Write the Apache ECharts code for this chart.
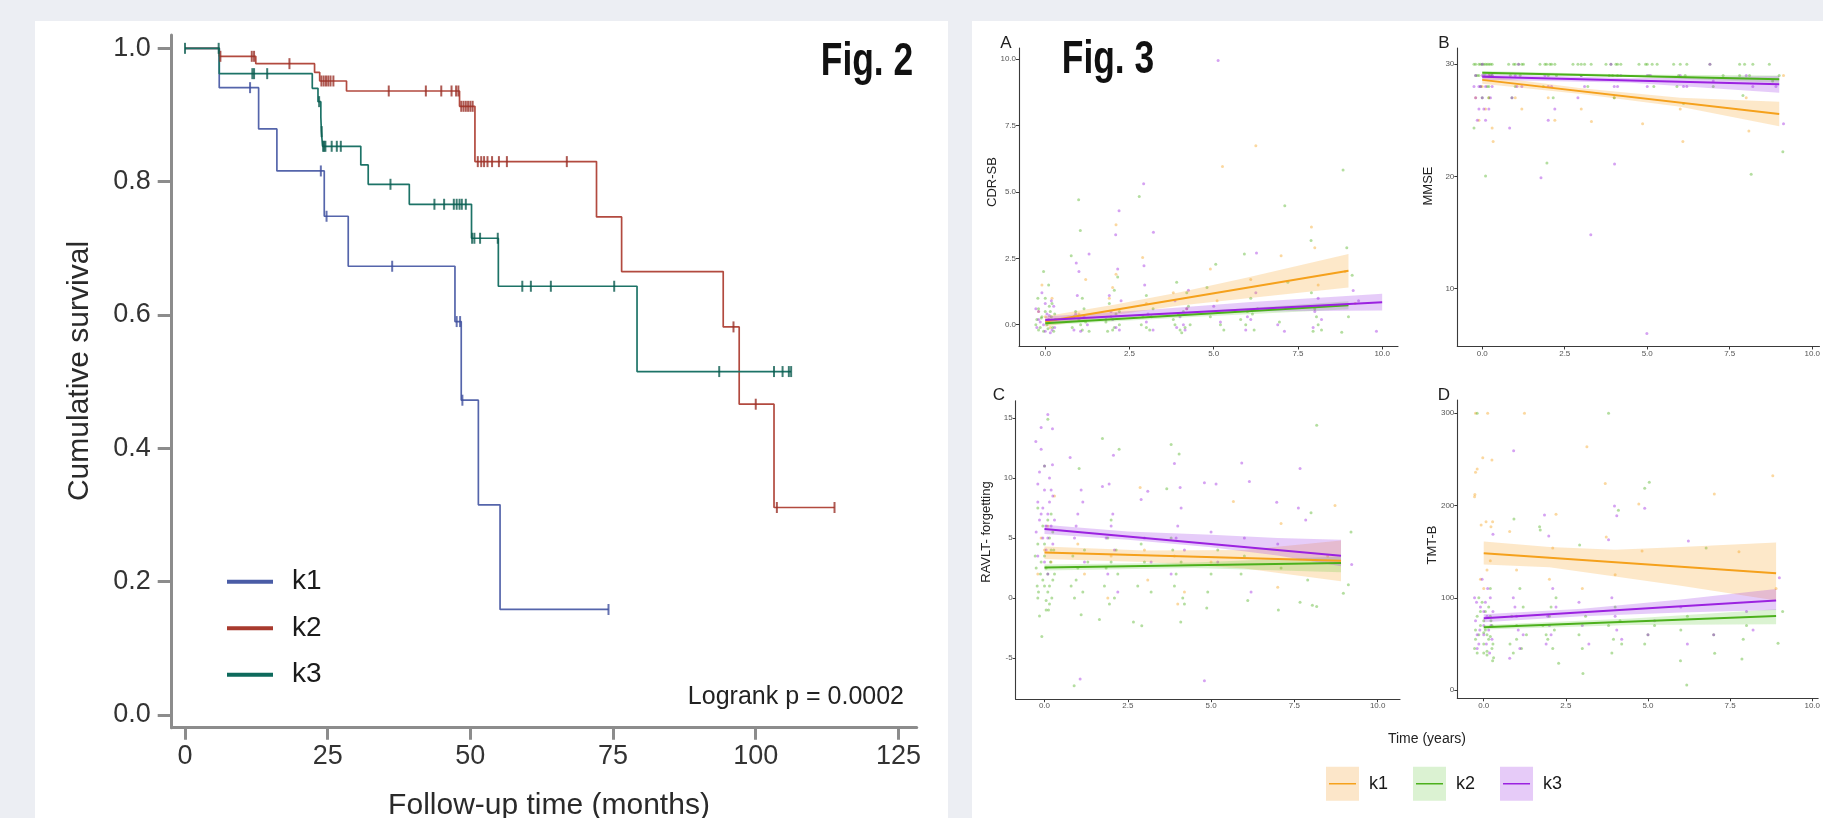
<!DOCTYPE html>
<html><head><meta charset="utf-8">
<script src="https://cdn.jsdelivr.net/npm/echarts@6/dist/echarts.min.js"></script>
<style>
html,body{margin:0;padding:0;background:#eceef3;width:1823px;height:818px;overflow:hidden}
.panel{position:absolute;background:#fff}
#chart{position:absolute;left:0;top:0;width:1823px;height:818px}
</style></head><body>
<div class="panel" style="left:35px;top:21px;width:913px;height:797px"></div>
<div class="panel" style="left:972px;top:21px;width:851px;height:797px"></div>
<div id="chart"></div>
<script>
// ---------- Fig. 2 : Kaplan-Meier ----------
const kmTicksX = [0, 25, 50, 75, 100, 125];
const kmTicksY = [0, 0.2, 0.4, 0.6, 0.8, 1.0];
const groups = ['k1', 'k2', 'k3'];

const k1Times = [0, 6.0, 12.9, 16.1, 24.4, 28.6, 47.3, 48.4, 51.4, 55.2];
const k1Surv  = [1, 0.941, 0.879, 0.816, 0.748, 0.673, 0.590, 0.472, 0.315, 0.158];
const k1End = 74.2;
const k1Censor = [11.4, 23.8, 24.8, 36.3, 47.6, 48.2, 48.6, 74.2];

const k2Times = [0, 6.0, 12.4, 22.7, 23.6, 28.3, 48.1, 50.8, 72.1, 76.5, 94.3, 97.1, 103.2];
const k2Surv  = [1, 0.988, 0.977, 0.964, 0.951, 0.936, 0.913, 0.830, 0.747, 0.665, 0.582, 0.466, 0.311];
const k2End = 113.8;
const k2Censor = [6.2, 11.7, 12.1, 18.3, 23.9, 24.3, 24.7, 25.1, 25.5, 26.0, 35.7, 42.2, 44.9, 46.7, 47.5, 47.9,
  48.4, 48.8, 49.2, 49.6, 50.0, 50.4, 51.3, 51.9, 52.4, 53.0, 53.8, 55.0, 56.4, 66.9, 96.1, 100.0, 103.7, 113.8];

const k3Times = [0, 6.0, 22.3, 23.3, 23.8, 23.9, 24.1, 30.8, 32.1, 39.3, 50.2, 54.9, 79.2];
const k3Surv  = [1, 0.962, 0.940, 0.920, 0.897, 0.875, 0.853, 0.825, 0.796, 0.766, 0.715, 0.643, 0.515];
const k3End = 106.2;
const k3Censor = [0, 5.9, 11.8, 12.1, 14.4, 23.5, 23.95, 24.2, 24.4, 24.6, 25.7, 26.6, 27.3, 36.0, 43.7, 45.4,
  47.1, 47.6, 48.1, 48.5, 49.2, 50.3, 50.7, 51.7, 54.8, 59.1, 60.6, 64.1, 75.2, 93.6, 103.2, 104.7, 105.8, 106.2];

// ---------- Fig. 3 : trajectories ----------
const timeTicks = [0, 2.5, 5, 7.5, 10];
const cdrTicks = [0, 2.5, 5, 7.5, 10];
const mmseTicks = [10, 20, 30];
const ravltTicks = [-5, 0, 5, 10, 15];
const tmtTicks = [0, 100, 200, 300];

const cdrK1 = [[0.0,0.3],[0.2,1.0],[-0.2,0.5],[0.15,-0.1],[-0.1,1.5],[1.0,0.4],[1.2,1.7],[2.1,3.76],[1.9,1.0],[2.0,1.4],
  [2.89,2.53],[3.0,0.8],[3.8,1.2],[4.2,0.6],[5.26,5.96],[4.9,2.1],[5.1,0.9],[6.25,6.74],[6.1,1.7],[7.0,2.6],
  [7.9,3.68],[8.0,2.9],[8.1,1.5],[8.9,2.0],[9.2,0.8],[2.1,1.9]];
const cdrK2 = [[-0.2,-0.2],[0.1,0.1],[0.25,-0.25],[-0.1,0.3],[0.15,0.5],[0.05,0.0],[-0.25,0.2],[0.2,0.8],[-0.15,-0.1],
  [0.3,0.2],[0.0,1.0],[-0.05,2.0],[0.1,1.5],[-0.2,0.6],[0.8,-0.1],[1.0,0.2],[1.1,-0.2],[0.9,0.5],[1.2,0.1],[0.77,2.6],
  [1.04,3.55],[0.99,4.71],[1.1,1.0],[1.3,-0.25],[1.8,0.1],[2.0,-0.2],[2.1,0.4],[1.9,0.8],[2.2,0.0],[2.05,1.3],
  [1.85,-0.25],[2.15,1.8],[2.79,4.83],[2.9,0.3],[3.1,-0.2],[3.2,0.6],[2.85,0.0],[3.0,1.1],[3.8,0.2],[4.0,-0.2],
  [4.1,0.5],[4.2,1.2],[3.9,1.6],[4.3,0.0],[4.05,-0.3],[4.9,0.3],[5.06,2.28],[5.2,0.0],[4.8,1.4],[5.3,-0.2],
  [5.91,2.66],[6.0,0.5],[6.2,-0.2],[6.1,1.0],[5.8,0.2],[6.3,0.6],[7.11,4.48],[6.95,0.1],[7.2,1.6],[7.89,3.17],
  [8.0,0.6],[8.2,-0.2],[7.9,1.2],[8.1,0.0],[8.84,5.83],[8.8,-0.28],[9.11,1.86],[9.0,0.3],[8.95,2.9],
  [-0.28,0.0],[0.28,0.4],[-0.05,-0.25],[0.12,0.7],[-0.22,1.0],[0.22,-0.1],[0.0,0.5],[-0.12,0.25],[0.18,0.3],
  [0.08,-0.15],[1.05,0.0],[0.85,0.3],[1.15,0.6],[1.95,0.3],[2.05,-0.1],[2.2,0.5],[3.95,0.4],[4.15,-0.1],[3.85,0.0],
  [4.25,0.7],[3.0,-0.1],[3.15,0.3],[5.95,0.0],[6.15,0.4],[8.05,0.3],[7.95,-0.25]];
const cdrK3 = [[-0.15,0.1],[0.2,-0.2],[0.05,0.4],[-0.25,-0.1],[0.25,0.7],[0.1,0.2],[-0.1,1.2],[0.15,-0.3],[0.0,0.8],
  [-0.2,0.5],[0.92,2.32],[1.3,2.66],[0.95,1.1],[1.15,0.3],[0.85,-0.2],[1.25,0.0],[1.0,2.0],[2.19,4.29],[2.09,3.39],
  [2.15,2.1],[1.95,0.5],[2.1,-0.1],[2.25,0.9],[1.8,0.2],[2.92,5.31],[3.21,3.48],[2.93,2.22],[3.05,0.4],[3.2,-0.2],
  [2.95,1.5],[4.0,0.3],[4.15,-0.2],[3.85,0.9],[4.25,1.3],[4.1,0.0],[5.13,9.95],[5.0,0.7],[5.2,0.1],[6.27,2.7],
  [6.1,0.2],[5.95,-0.2],[6.25,1.2],[6.9,0.0],[7.1,-0.25],[8.0,0.5],[8.1,1.0],[7.95,-0.1],[9.14,1.29],[9.83,-0.25],[9.3,0.9],
  [-0.05,0.0],[0.12,0.35],[-0.2,0.2],[0.28,-0.1],[0.0,-0.25],[0.18,0.9],[-0.28,0.6],[1.05,-0.25],[0.9,0.4],[2.0,0.2],
  [2.2,-0.2],[1.9,1.1],[3.9,-0.1],[4.2,0.6],[3.0,0.1],[6.0,0.3],[8.2,0.2]];
const cdrFitK1 = [[0, 0.12], [9.0, 2.03]];
const cdrFitK2 = [[0, 0.06], [9.0, 0.73]];
const cdrFitK3 = [[0, 0.18], [10.0, 0.85]];
const cdrBandK1 = [[0,-0.08,0.32],[2,0.36,0.74],[4,0.72,1.22],[6,1.0,1.78],[9,1.40,2.66]];
const cdrBandK2 = [[0,-0.02,0.14],[4.5,0.30,0.50],[9,0.58,0.88]];
const cdrBandK3 = [[0,0.07,0.31],[3,0.33,0.55],[6,0.50,0.85],[10,0.54,1.17]];

const mmseK1 = [[0.0,28],[-0.2,27],[0.2,27],[0.1,26],[-0.1,25],[0.33,23.1],[0.3,24.3],[0.2,29],[1.0,27],[1.2,26],
  [2.0,27],[2.2,25],[3.31,24.9],[3.0,26],[4.86,24.7],[4.0,27],[6.08,23.1],[6.0,26],[8.08,24.05],[8.0,27],[9.13,29]];
const mmseK2 = [[-0.2,30],[-0.1,30],[0.0,30],[0.1,30],[0.2,30],[0.3,30],[-0.15,29],[0.05,29],[0.25,29],[0.15,28],
  [-0.05,28],[-0.25,24.3],[0.1,20.04],[0.2,27],[0.8,30],[0.95,30],[1.1,30],[1.25,30],[0.85,29],[1.15,29],[1.0,28],
  [0.9,27],[1.75,30],[1.9,30],[2.05,30],[2.2,30],[2.0,29],[1.85,28],[2.15,27],[1.96,21.2],[2.75,30],[2.9,30],
  [3.1,30],[3.0,29],[3.2,28],[3.75,30],[3.9,30],[4.05,30],[4.2,30],[3.85,29],[4.1,29],[4.0,27],[4.75,30],[4.95,30],
  [5.15,30],[5.05,29],[5.2,28],[5.8,30],[6.0,30],[6.15,29],[5.9,28],[6.1,26.5],[6.9,30],[7.3,29],[7.0,28],
  [7.8,30],[7.95,30],[8.1,29],[8.15,20.2],[7.9,27.2],[8.7,30],[9.11,22.2],[8.8,28.5],[9.0,29],
  [-0.25,30],[0.15,30],[0.25,30],[-0.05,30],[0.05,30],[-0.2,29],[0.3,29],[-0.1,29],[0.2,28],[0.0,27],[1.0,30],
  [1.2,30],[2.1,30],[1.95,30],[2.25,29],[3.0,30],[3.3,30],[4.1,30],[3.95,29],[5.0,30],[5.3,30],[6.2,30],[5.95,29],
  [7.8,29],[8.2,30]];
const mmseK3 = [[-0.2,29],[0.0,29],[0.2,29],[-0.1,28],[0.1,28],[0.3,28],[-0.2,27],[0.0,27],[0.2,26],[-0.1,26],
  [0.1,25],[0.0,30],[0.83,24.3],[1.0,29],[1.2,28],[0.9,27],[1.1,30],[1.78,19.87],[2.1,28],[1.9,29],[2.2,26],
  [2.0,25],[3.29,14.8],[3.0,29],[2.9,27],[4.01,21.1],[4.0,28],[4.2,29],[3.9,30],[4.99,6.0],[5.1,29],[5.0,28],
  [6.0,29],[6.2,28],[6.9,30],[7.0,28.5],[8.2,28],[8.0,29],[9.13,24.7],[8.9,28],
  [0.1,29],[-0.05,28],[0.25,27],[-0.25,28],[0.05,26],[0.3,29],[-0.15,25],[1.05,28],[2.0,28],[3.1,28],[4.1,28],
  [5.0,29],[6.1,28]];
const mmseFitK1 = [[0, 28.6], [9.0, 25.55]];
const mmseFitK2 = [[0, 29.23], [9.0, 28.66]];
const mmseFitK3 = [[0, 28.87], [9.0, 28.22]];
const mmseBandK1 = [[0,28.25,29.0],[3,27.35,27.85],[6,26.2,27.0],[9,24.47,26.64]];
const mmseBandK2 = [[0,29.08,29.38],[4.5,28.88,29.08],[9,28.34,29.0]];
const mmseBandK3 = [[0,28.62,29.12],[4.5,28.35,28.75],[9,27.45,28.95]];

const ravltK1 = [[0.0,4],[0.2,3],[-0.1,5],[0.1,6],[-0.2,2],[0.3,8.5],[1.0,4.5],[1.2,2],[2.0,3.5],[1.9,0],[2.87,9.2],
  [3.0,4],[3.1,1.5],[3.9,3.5],[4.2,0.5],[4.0,-0.5],[5.67,8.05],[5.0,3],[7.0,0.9],[7.1,6.2],[8.72,7.7],[8.5,3.5]];
const ravltK2 = [[-0.2,0],[0.0,1],[0.1,2],[-0.1,3],[0.2,4],[0.05,-1],[0.15,5],[-0.25,2.5],[0.25,1.5],[0.0,3.5],
  [-0.15,-1.5],[0.1,0.5],[-0.05,6],[0.2,7],[0.1,14.9],[-0.08,-3.2],[0.0,11],[-0.2,4.5],[0.3,2],[0.15,-0.5],
  [1.04,10.8],[0.89,-7.3],[1.1,-1.4],[0.8,1],[1.0,2.5],[1.2,4],[0.9,0],[1.3,3],[1.74,13.3],[2.24,12.4],[1.65,-1.8],
  [1.8,1],[2.0,3],[2.1,0],[1.9,5],[2.2,2],[2.0,6.5],[2.67,-2.0],[2.92,-2.3],[2.8,1],[3.0,3],[3.2,0.5],[2.9,4.5],
  [3.8,12.8],[4.04,12.0],[4.09,-2.0],[3.67,9.1],[3.9,1],[4.1,3],[4.2,-0.5],[3.8,5],[4.87,-0.83],[5.0,2],[5.2,4],
  [4.9,0.5],[5.9,2],[6.1,-0.2],[6.0,3.5],[7.02,-1.0],[7.1,2.5],[8.17,14.4],[8.0,7.1],[7.67,-0.36],[8.17,-0.7],
  [8.04,-0.6],[7.9,1.5],[9.2,5.5],[9.12,1.1],[8.97,0.4],
  [-0.22,1],[0.22,0],[0.05,2.5],[-0.05,1.5],[0.18,3],[-0.18,0.5],[0.12,-1],[0.28,4],[-0.28,3.5],[0.0,4.5],
  [0.1,6.5],[-0.12,2],[0.25,5.5],[-0.2,7.5],[0.15,1],[0.05,-0.2],[0.95,1.5],[1.15,0.5],[0.85,3.5],[1.85,2.5],
  [2.15,4],[1.95,-0.5],[3.95,2],[4.15,0],[3.85,4]];
const ravltK3 = [[0.1,15.3],[-0.26,13.05],[-0.1,14.2],[0.24,14.1],[-0.1,12.4],[0.24,11.1],[0.0,9],[-0.2,8],[0.1,7],
  [0.2,6],[-0.05,5],[0.15,10],[-0.15,6.5],[0.05,4],[0.25,8.5],[-0.2,9.5],[0.0,3],[0.1,2],[0.77,11.7],[1.07,-6.75],
  [1.0,7],[0.9,5],[1.2,3],[1.1,9],[2.07,11.9],[1.94,9.5],[1.74,9.3],[2.0,6],[2.1,4],[1.9,2],[2.2,0.5],[3.1,8.9],
  [2.9,8.2],[3.0,5],[3.2,3],[3.9,11.2],[4.07,9.2],[4.8,9.6],[4.0,6],[4.2,4],[3.8,2],[5.15,9.5],[4.8,-6.9],[5.0,5.5],
  [5.2,3],[5.92,11.25],[6.15,9.7],[6.0,5],[6.2,0.5],[6.97,7.97],[7.62,7.5],[7.84,6.5],[7.67,10.8],[7.0,4.5],[9.22,2.8],
  [-0.05,7.5],[0.15,8],[-0.25,5.5],[0.2,9],[0.05,6],[-0.15,10.5],[0.25,4.5],[0.0,11],[-0.1,7],[0.1,5],[0.3,6.5],
  [-0.2,3.5],[0.95,6],[1.15,8],[2.05,7],[1.85,5],[3.95,5],[4.1,7.5]];
const ravltFitK1 = [[0, 3.8], [8.9, 3.1]];
const ravltFitK2 = [[0, 2.55], [8.9, 2.92]];
const ravltFitK3 = [[0, 5.75], [8.9, 3.52]];
const ravltBandK1 = [[0,3.25,4.3],[3,3.0,3.95],[6,2.45,4.0],[8.9,1.39,4.8]];
const ravltBandK2 = [[0,2.3,2.8],[4.5,2.5,2.95],[8.9,2.15,3.45]];
const ravltBandK3 = [[0,5.33,6.1],[2.5,4.85,5.55],[5,4.22,5.28],[7,3.55,5.0],[8.9,2.64,4.86]];

const tmtK1 = [[-0.25,300],[0.12,300],[-0.03,251.9],[0.25,249.4],[-0.2,239.6],[-0.25,236],[-0.28,209.6],[-0.27,212],
  [-0.08,178.9],[0.07,182.5],[0.27,182.5],[0.22,177],[0.1,130],[-0.1,120],[0.2,140],[0.0,110],[1.24,300],[0.79,171.7],
  [1.0,130],[2.2,190.5],[2.1,154],[2.0,120],[3.14,263.8],[3.0,110],[3.7,224],[3.73,166],[4.72,201.7],[4.82,150.7],
  [4.0,125],[7.02,212.5],[7.77,150],[8.8,232.4],[8.9,110]];
const tmtK2 = [[-0.2,40],[0.0,50],[0.1,60],[-0.1,70],[0.2,80],[0.25,45],[-0.25,55],[0.05,65],[0.15,90],[-0.15,100],
  [0.3,35],[0.0,75],[-0.1,85],[0.2,58],[0.1,42],[-0.2,300],[0.27,31.8],[0.92,185.4],[0.8,50],[1.0,70],[1.2,90],
  [0.9,40],[1.1,110],[1.3,60],[1.7,177],[1.72,173.5],[1.9,60],[2.0,80],[2.1,45],[2.2,100],[2.28,28.9],[1.8,70],
  [2.92,157.2],[3.02,18],[2.9,60],[3.1,80],[3.0,45],[3.8,300],[4.1,195],[3.8,70],[4.0,90],[4.2,50],[3.9,40],
  [5.04,225.2],[4.9,218.6],[5.0,60],[5.2,70],[4.9,50],[6.18,5.4],[5.99,31.8],[6.77,154],[6.0,65],[6.2,80],
  [7.03,39.8],[7.0,60],[7.86,33.6],[8.0,70],[7.9,55],[9.1,85],[8.96,50.6],
  [-0.25,65],[0.25,70],[0.0,40],[0.15,55],[-0.15,60],[0.05,85],[0.28,50],[-0.05,95],[0.2,110],[-0.2,80],[0.1,38],
  [0.0,62],[-0.28,45],[0.22,75],[1.0,55],[0.85,80],[1.15,45],[1.95,55],[2.15,65],[2.05,90],[3.95,55],[4.15,75]];
const tmtK3 = [[-0.2,60],[0.0,70],[0.1,80],[-0.1,90],[0.2,100],[0.25,55],[-0.25,75],[0.05,95],[0.15,65],[-0.15,50],
  [0.0,85],[0.28,168.8],[-0.2,45],[0.91,259.5],[0.79,34.3],[1.0,80],[1.2,60],[0.9,100],[1.1,45],[1.85,189.7],
  [1.98,167],[2.0,70],[2.2,90],[1.9,50],[2.1,110],[3.0,70],[3.2,50],[2.9,95],[3.98,199.5],[4.05,189],[3.8,163],
  [4.0,80],[4.2,55],[3.9,100],[4.9,197],[5.0,60],[5.2,75],[6.23,161.5],[6.0,90],[6.2,50],[7.0,60],[8.0,85],
  [8.2,65],[9.0,121.8],
  [0.0,60],[0.12,110],[-0.12,65],[0.22,70],[-0.22,95],[0.08,50],[0.28,85],[-0.05,120],[0.18,40],[-0.28,100],
  [1.05,65],[0.95,90],[2.05,60],[1.95,80],[4.05,65]];
const tmtFitK1 = [[0, 148.2], [8.9, 126.5]];
const tmtFitK2 = [[0, 67.9], [8.9, 80.2]];
const tmtFitK3 = [[0, 77.7], [8.9, 96.9]];
const tmtBandK1 = [[0,136,161],[2,133,155],[4,123,152],[6,113,155],[8.9,97,160]];
const tmtBandK2 = [[0,65.5,70.5],[4.5,70.5,77.5],[8.9,71.2,87.5]];
const tmtBandK3 = [[0,73.5,82],[3,80,88],[6,84,98],[8.9,86.7,109.5]];

// ---------- styling ----------
const FONT = "'Liberation Sans', Arial, Helvetica, sans-serif";
const kmLineColors = ['#5565ab', '#b24a3f', '#1d7367'];
const kmMarkColors = ['#3e4f9e', '#9a3128', '#0c5c50'];
const kmLegendColors = ['#4a5ca6', '#a83a2e', '#0e6a5c'];
const fitColors = ['#f5a11c', '#4cb01c', '#9b22e0'];
const bandColors = ['rgba(247,165,40,0.25)', 'rgba(90,200,50,0.22)', 'rgba(150,40,230,0.24)'];
const boxColors = ['#fce6c9', '#dbf2d2', '#e6cbf8'];

function survAt(times, surv, t) {
  let s = surv[0];
  for (let i = 0; i < times.length; i++) if (times[i] <= t) s = surv[i];
  return s;
}
function kmPoints(times, surv, end) {
  const d = times.map((t, i) => [t, surv[i]]);
  d.push([end, surv[surv.length - 1]]);
  return d;
}

const km = [
  [k1Times, k1Surv, k1End, k1Censor],
  [k2Times, k2Surv, k2End, k2Censor],
  [k3Times, k3Surv, k3End, k3Censor]
];

const series = [];
km.forEach((g, i) => {
  series.push({
    type: 'line', name: groups[i], xAxisIndex: 0, yAxisIndex: 0, step: 'end',
    data: kmPoints(g[0], g[1], g[2]), showSymbol: false, symbol: 'none', color: kmLineColors[i],
    lineStyle: { width: 1.7, color: kmLineColors[i] }, z: 3, silent: true
  });
  series.push({
    type: 'scatter', name: groups[i] + '_c', xAxisIndex: 0, yAxisIndex: 0,
    data: g[3].map(c => [c, survAt(g[0], g[1], c)]), symbol: 'rect', symbolSize: [2, 11],
    itemStyle: { color: kmMarkColors[i] }, z: 4, silent: true
  });
});

const panels = [
  { pts: [cdrK1, cdrK2, cdrK3], fits: [cdrFitK1, cdrFitK2, cdrFitK3], bands: [cdrBandK1, cdrBandK2, cdrBandK3] },
  { pts: [mmseK1, mmseK2, mmseK3], fits: [mmseFitK1, mmseFitK2, mmseFitK3], bands: [mmseBandK1, mmseBandK2, mmseBandK3] },
  { pts: [ravltK1, ravltK2, ravltK3], fits: [ravltFitK1, ravltFitK2, ravltFitK3], bands: [ravltBandK1, ravltBandK2, ravltBandK3] },
  { pts: [tmtK1, tmtK2, tmtK3], fits: [tmtFitK1, tmtFitK2, tmtFitK3], bands: [tmtBandK1, tmtBandK2, tmtBandK3] }
];

panels.forEach((p, pi) => {
  const ax = pi + 1;
  p.pts.forEach((pts, g) => {
    series.push({
      type: 'scatter', name: 'p_' + groups[g], xAxisIndex: ax, yAxisIndex: ax, data: pts,
      symbolSize: 3, itemStyle: { color: fitColors[g], opacity: 0.42 }, z: 2, silent: true
    });
  });
  p.bands.forEach((band, g) => {
    series.push({
      type: 'custom', name: 'r_' + groups[g], xAxisIndex: ax, yAxisIndex: ax,
      data: [[band[0][0], band[0][1]]], z: 3, silent: true,
      renderItem: (params, api) => {
        const up = band.map(b => api.coord([b[0], b[2]]));
        const lo = band.slice().reverse().map(b => api.coord([b[0], b[1]]));
        return { type: 'polygon', shape: { points: up.concat(lo) }, style: { fill: bandColors[g] } };
      }
    });
  });
  p.fits.forEach((fit, g) => {
    series.push({
      type: 'line', name: 'f_' + groups[g], xAxisIndex: ax, yAxisIndex: ax, data: fit,
      showSymbol: false, symbol: 'none', color: fitColors[g],
      lineStyle: { width: 2, color: fitColors[g] }, z: 4, silent: true
    });
  });
});

// ---------- axes ----------
function kmAxis(extra) {
  return Object.assign({
    type: 'value', gridIndex: 0, splitLine: { show: false },
    axisLine: { show: true, onZero: false, lineStyle: { color: '#8c8c8c', width: 3 } },
  }, extra);
}
const xAxes = [
  kmAxis({ min: -2.33, max: 128.2,
    axisTick: { show: true, length: 12, lineStyle: { color: '#8c8c8c', width: 3 }, customValues: kmTicksX },
    axisLabel: { customValues: kmTicksX, fontSize: 27, color: '#333', margin: 15, fontFamily: FONT } })
];
const yAxes = [
  kmAxis({ min: -0.0194, max: 1.02,
    axisTick: { show: true, length: 14, lineStyle: { color: '#8c8c8c', width: 3 }, customValues: kmTicksY },
    axisLabel: { customValues: kmTicksY, fontSize: 27, color: '#333', margin: 21, fontFamily: FONT,
      formatter: v => v.toFixed(1) } })
];
function smallAxis(idx, min, max, ticks, fmt) {
  return {
    type: 'value', gridIndex: idx, min: min, max: max, splitLine: { show: false },
    axisLine: { show: true, onZero: false, lineStyle: { color: '#3a3a3a', width: 1.1 } },
    axisTick: { show: true, length: 3, customValues: ticks, lineStyle: { color: '#3a3a3a', width: 1 } },
    axisLabel: { customValues: ticks, fontSize: 8, color: '#555', margin: 3, fontFamily: FONT, formatter: fmt }
  };
}
const f1 = v => v.toFixed(1);
const f0 = v => String(Math.round(v));
xAxes.push(smallAxis(1, -0.78, 10.47, timeTicks, f1));
yAxes.push(smallAxis(1, -0.82, 10.42, cdrTicks, f1));
xAxes.push(smallAxis(2, -0.756, 10.22, timeTicks, f1));
yAxes.push(smallAxis(2, 4.84, 31.44, mmseTicks, f0));
xAxes.push(smallAxis(3, -0.864, 10.67, timeTicks, f1));
yAxes.push(smallAxis(3, -8.43, 16.44, ravltTicks, f0));
xAxes.push(smallAxis(4, -0.805, 10.18, timeTicks, f1));
yAxes.push(smallAxis(4, -9.0, 314.4, tmtTicks, f0));

// ---------- text ----------
function txt(x, y, text, size, opts) {
  opts = opts || {};
  return {
    type: 'text', x: x, y: y, rotation: opts.rot || 0, scaleX: opts.sx || 1, scaleY: opts.sy || 1, silent: true,
    style: { text: text, fontSize: size, fontFamily: opts.family || FONT, fontWeight: opts.weight || 'normal',
      fill: opts.color || '#222', align: opts.align || 'center', verticalAlign: 'middle' }
  };
}
const graphics = [
  txt(80, 371, 'Cumulative survival', 30, { rot: Math.PI / 2, color: '#2a2a2a' }),
  txt(549, 806, 'Follow-up time (months)', 30, { color: '#2a2a2a' }),
  txt(904, 697, 'Logrank p = 0.0002', 25, { align: 'right', color: '#222' }),
  txt(867, 62, 'Fig. 2', 46, { weight: 'bold', sx: 0.77, color: '#111' }),
  txt(1108, 60, 'Fig. 3', 46, { weight: 'bold', sx: 0.77, color: '#111' }),
  txt(1006, 43, 'A', 17), txt(1444, 43, 'B', 17), txt(999, 395, 'C', 17), txt(1444, 395, 'D', 17),
  txt(992, 182, 'CDR-SB', 13, { rot: Math.PI / 2 }),
  txt(1428, 186, 'MMSE', 13, { rot: Math.PI / 2 }),
  txt(986, 532, 'RAVLT- forgetting', 13, { rot: Math.PI / 2 }),
  txt(1432, 545, 'TMT-B', 13, { rot: Math.PI / 2 }),
  txt(1427, 739, 'Time (years)', 14)
];

const chart = echarts.init(document.getElementById('chart'));
chart.setOption({
  animation: false,
  grid: [
    { left: 171.7, top: 35, width: 745, height: 692.7 },
    { left: 1019, top: 48, width: 379, height: 298.5 },
    { left: 1457.3, top: 48, width: 365.7, height: 298.5 },
    { left: 1015.7, top: 400.7, width: 384.3, height: 298.5 },
    { left: 1457.3, top: 400, width: 365.7, height: 298.3 }
  ],
  xAxis: xAxes,
  yAxis: yAxes,
  legend: [
    { left: 227, top: 567.7, padding: 0, orient: 'vertical', itemWidth: 60, itemHeight: 4, itemGap: 18.5, selectedMode: false,
      icon: 'path://M0,0h46v4h-46z M59.9,0h0.1v0.1h-0.1z',
      itemStyle: { borderWidth: 0 },
      data: groups.map((g, i) => ({ name: g, itemStyle: { color: kmLegendColors[i] } })),
      textStyle: { fontSize: 28, color: '#1a1a1a', fontFamily: FONT, lineHeight: 28 } },
    { left: 1326, top: 766.7, padding: 0, orient: 'horizontal', itemWidth: 38, itemHeight: 34, itemGap: 25, selectedMode: false,
      icon: 'path://M0,0h33v34h-33z M37.9,0h0.1v0.1h-0.1z', z: 4,
      itemStyle: { borderWidth: 0 },
      data: groups.map((g, i) => ({ name: 'r_' + g, itemStyle: { color: boxColors[i] } })),
      formatter: n => n.slice(2),
      textStyle: { fontSize: 18, color: 'rgba(0,0,0,0)', fontFamily: FONT } },
    { left: 1326, top: 766.7, padding: 0, orient: 'horizontal', itemWidth: 38, itemHeight: 34, itemGap: 25, selectedMode: false,
      icon: 'path://M0,0h0.1v0.1h-0.1z M3,16.2h27v1.6h-27z M37.9,33.9h0.1v0.1h-0.1z', z: 5,
      itemStyle: { borderWidth: 0 },
      data: groups.map((g, i) => ({ name: 'f_' + g, itemStyle: { color: fitColors[i] } })),
      formatter: n => n.slice(2),
      textStyle: { fontSize: 18, color: '#1a1a1a', fontFamily: FONT } }
  ],
  graphic: graphics,
  series: series
});
</script>
</body></html>
